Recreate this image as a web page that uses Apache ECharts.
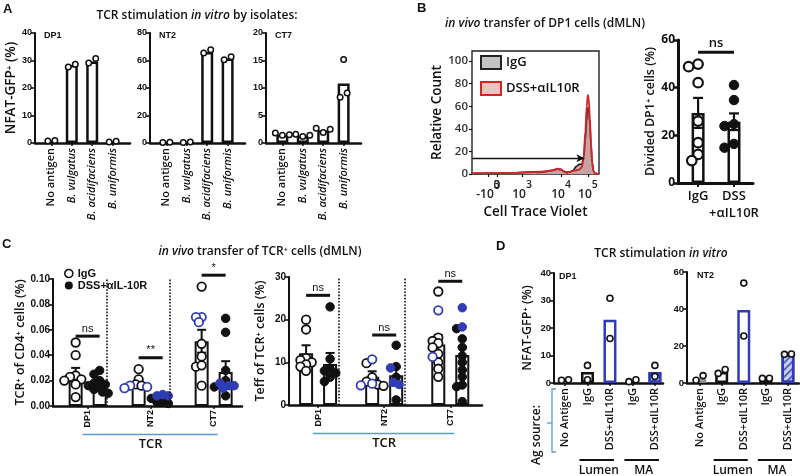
<!DOCTYPE html>
<html>
<head>
<meta charset="utf-8">
<script src="https://cdn.jsdelivr.net/npm/echarts@6.0.0/dist/echarts.min.js"></script>
<style>
html,body{margin:0;padding:0;background:#fff;}
#chart{width:800px;height:476px;}
</style>
</head>
<body>
<div id="chart"></div>
<script>
// ===================== DATA =====================
// Panel A: TCR stimulation in vitro by isolates
const isolates = ['No antigen', 'B. vulgatus', 'B. acidifaciens', 'B. uniformis'];
const aPanelNames = ['DP1', 'NT2', 'CT7'];
const aYMax = [40, 80, 20];
const aYStep = [10, 20, 5];
const aDP1Bars = [0.8, 28.4, 29.6, 0.5];
const aDP1Dots = [[0.7, 0.9], [27.6, 28.6], [29.1, 30.7], [0.4, 0.6]];
const aNT2Bars = [0.4, 0.5, 66.2, 61.4];
const aNT2Dots = [[0.3, 0.6], [0.4, 0.8], [65.5, 67.8], [60.6, 62.8]];
const aCT7Bars = [1.5, 1.3, 2.3, 10.8];
const aCT7Dots = [[1.8, 1.4, 1.5], [1.6, 1.2, 1.4], [2.7, 1.9, 2.5], [8.3, 15.2, 9.1]];

// Panel B: CTV histogram
const ctvChannel = [0, 40, 80, 120, 160, 200, 240, 280, 320, 360, 400, 440, 480, 520, 560, 600, 640, 670, 700, 720, 745, 770, 795, 820, 845, 865, 880, 892, 903, 912, 920, 928, 937, 946, 955, 965, 978, 1000];
const ctvIgG = [0.4, 0.6, 0.5, 0.7, 0.5, 0.6, 0.8, 0.6, 0.9, 1.0, 1.3, 1.6, 1.8, 1.4, 1.8, 2.5, 3.2, 4.2, 3.8, 2.5, 1.6, 2.0, 3.0, 6.5, 8.5, 8.5, 15, 30, 47, 59, 57, 44, 25, 10, 3, 1, 0.3, 0];
const ctvDSS = [0.6, 0.8, 0.6, 0.5, 0.9, 0.7, 0.6, 0.9, 0.8, 1.3, 1.5, 1.4, 1.6, 1.9, 2.2, 2.8, 3.4, 4.8, 4.2, 2.4, 1.0, 1.8, 2.6, 3.2, 4.0, 6.0, 16, 38, 60, 70, 66, 50, 28, 11, 3, 1, 0.3, 0];
const ctvTickPos = [126, 197, 394, 701, 913];
const ctvTickBase = ['-10', '0', '10', '10', '10'];
const ctvTickExp = ['3', '', '3', '4', '5'];
const countTicks = [0, 20, 40, 60, 80, 100];
const gateRange = [0, 885];
const gateLevel = 14;

// Panel B: divided DP1 cells
const dividedGroups = ['IgG', 'DSS\n+αIL10R'];
const dividedIgG = [48.8, 49.9, 42.1, 26.0, 16.9, 12.0, 9.4];
const dividedDSS = [41.1, 34.8, 24.7, 23.9, 16.4, 14.8];
const dividedMean = [29.4, 25.7];
const dividedSem = [6.3, 3.5];
const dividedSigY = 54.9;

// Panel C: in vivo transfer of TCR+ cells
const tcrGroups = ['DP1', 'NT2', 'CT7'];
const cFreqIgGMean = [0.0242, 0.0180, 0.0510];
const cFreqIgGSem = [0.0058, 0.0030, 0.0090];
const cFreqDSSMean = [0.0177, 0.0058, 0.0268];
const cFreqDSSSem = [0.0025, 0.0010, 0.0085];
const cFreqIgGBlack = [[0.050, 0.040, 0.024, 0.023, 0.021, 0.020, 0.017, 0.007], [0.029, 0.021, 0.017, 0.016], [0.094, 0.049, 0.039, 0.031, 0.032, 0.016]];
const cFreqIgGBlue = [[], [0.016, 0.014, 0.015], [0.070, 0.070, 0.066]];
const cFreqDSSBlack = [[0.028, 0.025, 0.020, 0.018, 0.017, 0.016, 0.015, 0.013, 0.011, 0.010], [0.006, 0.004, 0.003, 0.002], [0.069, 0.058, 0.028, 0.020, 0.015, 0.008]];
const cFreqDSSBlue = [[], [0.009, 0.008, 0.008], [0.018, 0.016, 0.016, 0.014]];
const cFreqSigY = [0.055, 0.038, 0.103];
const cFreqSigLabel = ['ns', '**', '*'];

const cTeffIgGMean = [12.1, 6.6, 14.2];
const cTeffIgGSem = [1.9, 1.3, 2.2];
const cTeffDSSMean = [9.6, 7.0, 11.7];
const cTeffDSSSem = [2.6, 1.9, 1.9];
const cTeffIgGBlack = [[20.0, 17.7, 11.0, 10.5, 10.0, 9.5, 9.0, 8.0], [9.8, 6.5, 5.5, 4.8, 4.5], [26.6, 15.8, 15.0, 14.5, 13.5, 12.0, 10.0, 8.5, 6.6]];
const cTeffIgGBlue = [[], [10.7, 5.0, 4.6], [22.2, 11.3]];
const cTeffDSSBlack = [[23.0, 10.8, 8.5, 8.0, 7.5, 6.5, 5.5], [14.0, 9.0, 6.5, 1.2], [17.9, 15.5, 13.5, 11.5, 10.0, 8.2, 6.6, 4.7, 4.3, 0.8]];
const cTeffDSSBlue = [[], [8.7, 5.3, 4.8], [22.8, 18.3]];
const cTeffSigY = [25.7, 16.4, 29.0];
const cTeffSigLabel = ['ns', 'ns', 'ns'];

// Panel D: TCR stimulation in vitro by Ag source
const agSources = ['No Antigen', 'IgG', 'DSS+αIL10R', 'IgG', 'DSS+αIL10R'];
const agSourceGroups = [[1, 2], [3, 4]];
const agSourceGroupNames = ['Lumen', 'MA'];
const dPanelNames = ['DP1', 'NT2'];
const dYMax = [40, 60];
const dYStep = [10, 20];
const dDP1Bars = [1.1, 4.0, 23.0, 0.7, 4.0];
const dDP1Dots = [[1.0, 1.2], [6.4, 1.2], [30.8, 16.2], [0.5, 1.2], [6.4, 2.4]];
const dNT2Bars = [2.4, 6.0, 39.5, 2.9, 15.6];
const dNT2Dots = [[1.5, 4.0], [5.2, 7.3], [54.0, 25.4], [2.5, 2.6], [15.5, 15.7]];

// ===================== STYLE / LAYOUT =====================
const F = "'Open Sans', 'DejaVu Sans', sans-serif";
const FA = "'Liberation Sans', Arial, sans-serif";
const INK = '#111111';
const BLUE = '#2f3db4';
const SKY = '#5b9bd5';

const grids = [], xAxes = [], yAxes = [], series = [], graphics = [];

function addGrid(left, top, width, height, frame) {
  grids.push({left, top, width, height, containLabel: false, outerBoundsMode: 'none',
    show: !!frame, borderColor: '#222', borderWidth: 1.4, backgroundColor: 'transparent'});
  return grids.length - 1;
}
function yAx(gi, max, step, name, nameGap, o) {
  o = o || {};
  const ax = {type: 'value', gridIndex: gi, min: 0, max: max,
    axisLine: {show: true, onZero: false, lineStyle: {color: INK, width: o.lw || 2}},
    axisTick: {show: true, length: o.tl || 4, lineStyle: {color: INK, width: o.tw || 1.6}},
    axisLabel: Object.assign({fontFamily: FA, fontWeight: 'bold', fontSize: o.fs || 10, color: INK, margin: 3}, o.label || {}),
    splitLine: {show: false}};
  if (step) ax.interval = step;
  if (name) Object.assign(ax, {name, nameLocation: 'middle', nameGap, nameRotate: 90,
    nameTextStyle: {fontFamily: F, fontWeight: 600, fontSize: o.nfs || 12, color: INK}});
  return ax;
}
function xCat(gi, min, max, labels, lab, o) {
  o = o || {};
  const idx = labels.map((_, i) => i);
  return {type: 'value', gridIndex: gi, min, max,
    axisLine: {show: true, onZero: false, lineStyle: {color: INK, width: o.lw || 2.5}},
    axisTick: {show: true, customValues: idx, length: o.tl || 3, lineStyle: {color: INK, width: o.tw || 1.5}},
    axisLabel: Object.assign({customValues: idx, hideOverlap: false, formatter: v => labels[Math.round(v)]}, lab),
    splitLine: {show: false}};
}
// horizontal jitter: close points side by side, symmetric
function chainOffsets(vals, ppu, d, spacing) {
  const out = vals.map(() => 0);
  if (!vals.length) return out;
  const idx = vals.map((v, i) => i).sort((a, b) => vals[a] - vals[b]);
  let chain = [idx[0]];
  const flush = () => { const s = chain.slice().sort((a, b) => a - b); s.forEach((i, j) => { out[i] = (j - (s.length - 1) / 2) * spacing; }); };
  for (let k = 1; k < idx.length; k++) {
    if ((vals[idx[k]] - vals[idx[k - 1]]) * ppu < d) chain.push(idx[k]); else { flush(); chain = [idx[k]]; }
  }
  flush();
  return out;
}
// beeswarm jitter
function swarm(vals, ppu, d, tight) {
  const out = vals.map(() => 0);
  const idx = vals.map((v, i) => i).sort((a, b) => vals[b] - vals[a]);
  const placed = [];
  const cands = [0];
  for (let k = 1; k <= 8; k++) cands.push(-k * d / 3, k * d / 3);
  idx.forEach(i => {
    const y = vals[i] * ppu;
    for (const dx of cands) {
      if (placed.every(p => Math.hypot(p[0] - dx, p[1] - y) >= d * tight)) { out[i] = dx; placed.push([dx, y]); return; }
    }
    placed.push([0, y]);
  });
  return out;
}
function dotItems(groups, offsets, baseDx) {
  const out = [];
  groups.forEach((vals, g) => vals.forEach((v, j) => out.push({value: [g, v], symbolOffset: [baseDx + offsets[g][j], 0]})));
  return out;
}
function scatter(gi, data, size, fill, stroke, bw, name) {
  const s = {type: 'scatter', xAxisIndex: gi, yAxisIndex: gi, data, symbol: 'circle', symbolSize: size,
    itemStyle: {color: fill, borderColor: stroke, borderWidth: bw, opacity: 1}, silent: true, z: 4};
  if (name) s.name = name;
  return s;
}
function errSeries(gi, means, sems, dx, cap, lw) {
  return {type: 'custom', xAxisIndex: gi, yAxisIndex: gi, silent: true, z: 3, clip: false,
    data: means.map((m, i) => [i, m, sems[i]]), encode: {x: 0, y: 1},
    renderItem: (p, api) => {
      const x = api.value(0), m = api.value(1), s = api.value(2);
      const t = api.coord([x, m + s]), b = api.coord([x, m - s]);
      const cx = t[0] + dx; const st = {stroke: INK, lineWidth: lw || 2};
      return {type: 'group', children: [
        {type: 'line', shape: {x1: cx, y1: t[1], x2: cx, y2: b[1]}, style: st},
        {type: 'line', shape: {x1: cx - cap, y1: t[1], x2: cx + cap, y2: t[1]}, style: st},
        {type: 'line', shape: {x1: cx - cap, y1: b[1], x2: cx + cap, y2: b[1]}, style: st}]};
    }};
}
function sigSeries(gi, items, labels, dxa, dxb, font, gap) {
  return {type: 'custom', xAxisIndex: gi, yAxisIndex: gi, silent: true, z: 5, clip: false,
    data: items, encode: {x: [0, 1], y: 2},
    renderItem: (p, api) => {
      const a = api.coord([api.value(0), api.value(2)]), b = api.coord([api.value(1), api.value(2)]);
      const x1 = a[0] + dxa, x2 = b[0] + dxb;
      return {type: 'group', children: [
        {type: 'line', shape: {x1, y1: a[1], x2, y2: a[1]}, style: {stroke: INK, lineWidth: 3}},
        {type: 'text', x: (x1 + x2) / 2, y: a[1] - gap, style: {text: labels[p.dataIndex], align: 'center', verticalAlign: 'bottom', font, fill: INK}}]};
    }};
}
function bracketSeries(gi, spans, labels, o) {
  return {type: 'custom', xAxisIndex: gi, yAxisIndex: gi, silent: true, z: 5, clip: false,
    data: spans.map(s => [s[0], 0, s[1]]), encode: {x: 0, y: 1},
    renderItem: (p, api) => {
      const a = api.coord([api.value(0), 0]), b = api.coord([api.value(2), 0]);
      const y = a[1] + o.dy;
      return {type: 'group', children: [
        {type: 'line', shape: {x1: a[0] + o.dl, y1: y, x2: b[0] + o.dr, y2: y}, style: {stroke: o.color, lineWidth: o.lw}},
        {type: 'text', x: (a[0] + b[0]) / 2, y: y + o.tdy, style: {text: labels[p.dataIndex], align: 'center', verticalAlign: 'middle', font: o.font, fill: INK}}]};
    }};
}

// ===================== PANEL B histogram (first, for legend names) =====================
const BH = {left: 472, top: 51, width: 127, height: 123, yMax: 109};
const giH = addGrid(BH.left, BH.top, BH.width, BH.height, true);
// two overlaid label axes (alternate ticks) so that neighbouring labels never hide each other
[0, 1].forEach(k => {
  const vals = ctvTickPos.filter((_, i) => i % 2 === k);
  const ax = {type: 'value', gridIndex: giH, min: 0, max: 1000, position: 'bottom', offset: 0,
    axisLine: {show: false, onZero: false},
    axisTick: {show: true, customValues: vals, length: 3, lineStyle: {color: INK, width: 1.2}},
    axisLabel: {customValues: vals, margin: 6, hideOverlap: false, showMinLabel: true, showMaxLabel: true,
      formatter: v => { const i = ctvTickPos.indexOf(v); return '{b|' + ctvTickBase[i] + '}' + (ctvTickExp[i] ? '{s|' + ctvTickExp[i] + '}' : ''); },
      rich: {b: {fontFamily: F, fontWeight: 600, fontSize: 12, color: '#222', verticalAlign: 'bottom'},
             s: {fontFamily: F, fontWeight: 600, fontSize: 10.5, color: '#222', verticalAlign: 'bottom', padding: [0, 0, 10, 0]}}},
    splitLine: {show: false}};
  if (k === 0) Object.assign(ax, {name: 'Cell Trace Violet', nameLocation: 'middle', nameGap: 31,
    nameTextStyle: {fontFamily: F, fontWeight: 600, fontSize: 13.5, color: INK}});
  xAxes.push(ax);
});
yAxes.push({type: 'value', gridIndex: giH, min: 0, max: BH.yMax,
  axisLine: {show: false, onZero: false},
  axisTick: {show: true, customValues: countTicks, length: 3, lineStyle: {color: INK, width: 1.2}},
  axisLabel: {customValues: countTicks, fontFamily: F, fontWeight: 600, fontSize: 11.5, color: '#333', margin: 4},
  splitLine: {show: false},
  name: 'Relative Count', nameLocation: 'middle', nameGap: 26, nameRotate: 90,
  nameTextStyle: {fontFamily: F, fontWeight: 600, fontSize: 13.5, color: INK}});
const xH = 0, yH = 0;
series.push({type: 'line', name: 'IgG', xAxisIndex: xH, yAxisIndex: yH,
  data: ctvChannel.map((c, i) => [c, ctvIgG[i]]), smooth: 0.35, smoothMonotone: 'x', showSymbol: false, silent: true,
  lineStyle: {color: '#1a1a1a', width: 1.7}, areaStyle: {color: '#bdbdbd', opacity: 1}, z: 2,
  markLine: {silent: true, symbol: ['none', 'arrow'], symbolSize: [6, 8], label: {show: false},
    lineStyle: {color: INK, width: 1.4, type: 'solid'},
    data: [[{coord: [gateRange[0], gateLevel]}, {coord: [gateRange[1], gateLevel]}]]}});
series.push({type: 'line', name: 'DSS+αIL10R', xAxisIndex: xH, yAxisIndex: yH,
  data: ctvChannel.map((c, i) => [c, ctvDSS[i]]), smooth: 0.35, smoothMonotone: 'x', showSymbol: false, silent: true,
  lineStyle: {color: '#d42424', width: 1.8}, areaStyle: {color: 'rgba(228,112,112,0.5)'}, z: 3});

// axis index helpers (xAxes may hold more entries than grids)
function pushPair(gi, xa, ya) { xAxes.push(xa); yAxes.push(ya); return {x: xAxes.length - 1, y: yAxes.length - 1}; }
function S(s, ix) { s.xAxisIndex = ix.x; s.yAxisIndex = ix.y; series.push(s); }

// ===================== PANEL A =====================
const aBars = [aDP1Bars, aNT2Bars, aCT7Bars];
const aDots = [aDP1Dots, aNT2Dots, aCT7Dots];
const LA = {lefts: [35, 150, 266], top: 33, width: 95, height: 110, xMin: -0.8, xMax: 3.85};
aPanelNames.forEach((pn, k) => {
  const gi = addGrid(LA.lefts[k], LA.top, LA.width, LA.height);
  const ix = pushPair(gi,
    xCat(gi, LA.xMin, LA.xMax, isolates, {rotate: 90, margin: 5, fontFamily: F, fontWeight: 600, fontSize: 11, color: INK,
      formatter: v => { const s = isolates[Math.round(v)]; return /^B\./.test(s) ? '{i|' + s + '}' : s; },
      rich: {i: {fontStyle: 'italic', fontFamily: F, fontWeight: 600, fontSize: 11, color: INK}}}),
    yAx(gi, aYMax[k], aYStep[k], k === 0 ? 'NFAT-GFP⁺ (%)' : '', 10, {fs: 9, nfs: 13.5}));
  S({type: 'bar', barWidth: 12, data: aBars[k].map((v, i) => [i, v]),
    itemStyle: {color: '#fff', borderColor: INK, borderWidth: 2.5}, silent: true, z: 2}, ix);
  const ppu = LA.height / aYMax[k];
  const offs = aDots[k].map(vals => chainOffsets(vals, ppu, 5.5, 7));
  S(scatter(0, dotItems(aDots[k], offs, 0), 5.5, '#fff', INK, 1.5), ix);
  graphics.push({type: 'text', left: LA.lefts[k] + 9, top: 31, style: {text: pn, font: "bold 9px 'Liberation Sans'", fill: INK}});
});

// ===================== PANEL B divided =====================
const BD = {left: 678, top: 40, width: 75, height: 143, yMax: 60, xMin: -0.56, xMax: 1.53};
const giD = addGrid(BD.left, BD.top, BD.width, BD.height);
const ixD = pushPair(giD,
  xCat(giD, BD.xMin, BD.xMax, dividedGroups, {margin: 5, fontFamily: F, fontWeight: 600, fontSize: 13, color: INK, lineHeight: 17}, {lw: 3, tl: 4, tw: 2}),
  yAx(giD, BD.yMax, 20, 'Divided DP1⁺ cells (%)', 19, {lw: 3, tl: 5, tw: 2.5, nfs: 12.5, label: {fontFamily: F, fontWeight: 'bold', fontSize: 12}}));
S({type: 'bar', barWidth: 13, data: dividedMean.map((v, i) => [i, v]),
  itemStyle: {color: '#fff', borderColor: INK, borderWidth: 2.5}, silent: true, z: 2}, ixD);
S(errSeries(0, dividedMean, dividedSem, 0, 5, 2.2), ixD);
{
  const ppu = BD.height / BD.yMax;
  const o1 = swarm(dividedIgG, ppu, 9.5, 0.8), o2 = swarm(dividedDSS, ppu, 9.5, 0.8);
  S(scatter(0, dotItems([dividedIgG], [o1], 0), 9.5, '#fff', INK, 2.2), ixD);
  S(scatter(0, dotItems([[], dividedDSS], [[], o2], 0), 9.5, INK, INK, 1), ixD);
}
S(sigSeries(0, [[0, 1, dividedSigY]], ['ns'], 0, 0, "600 13px 'Open Sans'", 2), ixD);

// ===================== PANEL C =====================
const C_BAR_W = 14, C_PAIR_GAP = 10;
const C_OFF = (C_BAR_W + C_PAIR_GAP) / 2;
function cPanel(ix, ppu, igM, igS, dsM, dsS, igB, igU, dsB, dsU, sigY, sigL, dssName) {
  const seps = tcrGroups.slice(1).map((_, i) => ({xAxis: i + 0.5}));
  const barStyle = {color: '#fff', borderColor: INK, borderWidth: 2};
  S({type: 'bar', barWidth: C_BAR_W, barGap: (C_PAIR_GAP / C_BAR_W * 100) + '%',
    data: igM.map((v, i) => [i, v]), itemStyle: barStyle, silent: true, z: 2,
    markLine: {silent: true, symbol: 'none', label: {show: false}, lineStyle: {type: 'dotted', color: INK, width: 1.6}, data: seps}}, ix);
  S({type: 'bar', barWidth: C_BAR_W, barGap: (C_PAIR_GAP / C_BAR_W * 100) + '%',
    data: dsM.map((v, i) => [i, v]), itemStyle: barStyle, silent: true, z: 2}, ix);
  S(errSeries(0, igM, igS, -C_OFF, 4.5, 2), ix);
  S(errSeries(0, dsM, dsS, C_OFF, 4.5, 2), ix);
  const oIg = tcrGroups.map((_, g) => swarm(igB[g].concat(igU[g]), ppu, 8.5, 0.62));
  const oDs = tcrGroups.map((_, g) => swarm(dsB[g].concat(dsU[g]), ppu, 8.5, 0.62));
  S(scatter(0, dotItems(igB, oIg, -C_OFF), 8.5, '#fff', INK, 1.8), ix);
  S(scatter(0, dotItems(igU, oIg.map((o, g) => o.slice(igB[g].length)), -C_OFF), 8.5, '#fff', BLUE, 1.8), ix);
  S(scatter(0, dotItems(dsB, oDs, C_OFF), 8.5, INK, INK, 1, dssName), ix);
  S(scatter(0, dotItems(dsU, oDs.map((o, g) => o.slice(dsB[g].length)), C_OFF), 8.5, BLUE, BLUE, 1), ix);
  S(sigSeries(0, sigY.map((y, i) => [i, i, y]), sigL, -C_OFF, C_OFF, "11px 'Liberation Sans'", 2), ix);
  S(bracketSeries(0, [[0, tcrGroups.length - 1]], ['TCR'], {dy: 28.5, dl: -5, dr: 4, tdy: 9.5, color: SKY, lw: 1.6, font: "600 13px 'Open Sans'"}), ix);
}
const cXLab = {rotate: 90, margin: 4, fontFamily: FA, fontWeight: 'bold', fontSize: 9, color: INK};
const CF = {left: 53, top: 279, width: 189, height: 127, yMax: 0.10, xMin: -0.55, xMax: 2.45};
const giCF = addGrid(CF.left, CF.top, CF.width, CF.height);
const ixCF = pushPair(giCF, xCat(giCF, CF.xMin, CF.xMax, tcrGroups, cXLab, {lw: 2.5}),
  yAx(giCF, CF.yMax, 0.02, 'TCR⁺ of CD4⁺ cells (%)', 26, {fs: 10, nfs: 12.5, label: {formatter: v => v.toFixed(2)}}));
cPanel(ixCF, CF.height / CF.yMax, cFreqIgGMean, cFreqIgGSem, cFreqDSSMean, cFreqDSSSem,
  cFreqIgGBlack, cFreqIgGBlue, cFreqDSSBlack, cFreqDSSBlue, cFreqSigY, cFreqSigLabel, 'DSS+αIL-10R');

const CT = {left: 289, top: 277, width: 193, height: 128, yMax: 30, xMin: -0.44, xMax: 2.48};
const giCT = addGrid(CT.left, CT.top, CT.width, CT.height);
const ixCT = pushPair(giCT, xCat(giCT, CT.xMin, CT.xMax, tcrGroups, cXLab, {lw: 2.5}),
  yAx(giCT, CT.yMax, 10, 'Teff of TCR⁺ cells (%)', 22, {fs: 10, nfs: 12.5}));
cPanel(ixCT, CT.height / CT.yMax, cTeffIgGMean, cTeffIgGSem, cTeffDSSMean, cTeffDSSSem,
  cTeffIgGBlack, cTeffIgGBlue, cTeffDSSBlack, cTeffDSSBlue, cTeffSigY, cTeffSigLabel, null);

// ===================== PANEL D =====================
const dBars = [dDP1Bars, dNT2Bars];
const dDots = [dDP1Dots, dNT2Dots];
const LD = [
  {left: 554, top: 273, width: 109, height: 110, xMin: -0.49, xMax: 4.36, tagDx: 5},
  {left: 687, top: 272, width: 112, height: 111, xMin: -0.57, xMax: 4.5, tagDx: 10}];
const dBarStyles = [
  {color: '#c4c4c4', borderColor: '#8a8a8a', borderWidth: 2},
  {color: '#fff', borderColor: INK, borderWidth: 2.5},
  {color: '#fff', borderColor: BLUE, borderWidth: 2.5},
  {color: '#fff', borderColor: INK, borderWidth: 2.5},
  {color: '#c9d0f2', borderColor: BLUE, borderWidth: 2.5,
    decal: {symbol: 'rect', symbolSize: 1, color: 'rgba(47,61,180,0.75)', dashArrayX: [1, 0], dashArrayY: [1.5, 2.5], rotation: -Math.PI / 4}}];
dPanelNames.forEach((pn, k) => {
  const L = LD[k];
  const gi = addGrid(L.left, L.top, L.width, L.height);
  const ix = pushPair(gi, xCat(gi, L.xMin, L.xMax, agSources, {rotate: 90, margin: 5, fontFamily: F, fontWeight: 600, fontSize: 11, color: INK}),
    yAx(gi, dYMax[k], dYStep[k], k === 0 ? 'NFAT-GFP⁺ (%)' : '', 20, {fs: 9.5, nfs: 12.5}));
  S({type: 'bar', barWidth: 13, silent: true, z: 2,
    data: dBars[k].map((v, i) => ({value: [i, v], itemStyle: dBarStyles[i]}))}, ix);
  const ppu = L.height / dYMax[k];
  const offs = dDots[k].map(vals => chainOffsets(vals, ppu, 6, 7));
  S(scatter(0, dotItems(dDots[k], offs, 0), 6, '#fff', INK, 1.6), ix);
  S(bracketSeries(0, agSourceGroups, agSourceGroupNames, {dy: 77, dl: -8, dr: 4, tdy: 11, color: INK, lw: 2, font: "600 12px 'Open Sans'"}), ix);
  graphics.push({type: 'text', left: L.left + L.tagDx, top: L.top - 1, style: {text: pn, font: "bold 9px 'Liberation Sans'", fill: INK}});
});
// Ag source bracket
graphics.push({type: 'polyline', shape: {points: [[556, 389], [552, 389], [552, 452], [556, 452]]}, style: {stroke: SKY, lineWidth: 1.3, fill: null}});
graphics.push({type: 'line', shape: {x1: 552, y1: 423, x2: 547, y2: 423}, style: {stroke: SKY, lineWidth: 1.3}});
graphics.push({type: 'text', x: 537, y: 435, rotation: Math.PI / 2, style: {text: 'Ag source:', font: "600 12px 'Open Sans'", fill: INK, align: 'center', verticalAlign: 'middle'}});

// ===================== TITLES & LEGENDS =====================
const letter = {fontFamily: FA, fontWeight: 'bold', fontSize: 13, color: INK};
const ttl = {fontFamily: F, fontWeight: 600, fontSize: 12, color: INK, rich: {i: {fontFamily: F, fontWeight: 600, fontSize: 12, fontStyle: 'italic', color: INK}}};
const titles = [
  {text: 'A', left: 3, top: 3, padding: 0, textStyle: letter},
  {text: 'B', left: 417, top: 2, padding: 0, textStyle: letter},
  {text: 'C', left: 2, top: 238, padding: 0, textStyle: letter},
  {text: 'D', left: 496, top: 240, padding: 0, textStyle: letter},
  {text: 'TCR stimulation {i|in vitro} by isolates:', left: 197, top: 10, padding: 0, textAlign: 'center', textStyle: ttl},
  {text: '{i|in vivo} transfer of DP1 cells (dMLN)', left: 545, top: 18, padding: 0, textAlign: 'center', textStyle: ttl},
  {text: '{i|in vivo} transfer of TCR⁺ cells (dMLN)', left: 260, top: 246, padding: 0, textAlign: 'center', textStyle: ttl},
  {text: 'TCR stimulation {i|in vitro}', left: 661, top: 248, padding: 0, textAlign: 'center', textStyle: ttl}];

const legends = [
  {left: 480, top: 55, orient: 'vertical', itemWidth: 20, itemHeight: 13, itemGap: 11, selectedMode: false, padding: 0,
    textStyle: {fontFamily: F, fontWeight: 600, fontSize: 13, color: INK},
    data: [{name: 'IgG', icon: 'rect', itemStyle: {color: '#c4c4c4', borderColor: '#222', borderWidth: 2}},
           {name: 'DSS+αIL10R', icon: 'rect', itemStyle: {color: '#f2c2c2', borderColor: '#d42424', borderWidth: 2}}]},
  {left: 64, top: 268, orient: 'vertical', itemWidth: 8, itemHeight: 8, itemGap: 1, selectedMode: false, padding: 0,
    textStyle: {fontFamily: FA, fontWeight: 'bold', fontSize: 11, color: INK},
    data: [{name: 'IgG', icon: 'circle', itemStyle: {color: '#fff', borderColor: INK, borderWidth: 1.6}},
           {name: 'DSS+αIL-10R', icon: 'circle', itemStyle: {color: INK, borderColor: INK, borderWidth: 0}}]}];

const chart = echarts.init(document.getElementById('chart'), null, {renderer: 'canvas'});
chart.setOption({
  animation: false,
  backgroundColor: '#fff',
  textStyle: {fontFamily: F},
  title: titles,
  legend: legends,
  grid: grids,
  xAxis: xAxes,
  yAxis: yAxes,
  series: series,
  graphic: graphics
});
</script>
</body>
</html>
